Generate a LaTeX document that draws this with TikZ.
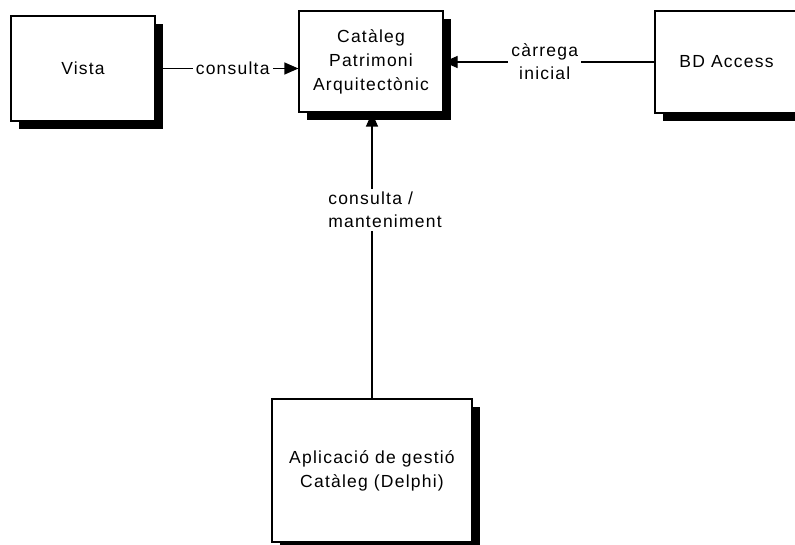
\documentclass[tikz,border=0pt]{standalone}
\usepackage{fontspec}
\setmainfont{Liberation Sans}[LetterSpace=7]
\usetikzlibrary{arrows.meta,shadows}
\pgfdeclarelayer{bg}
\pgfsetlayers{bg,main}

\begin{document}
\begin{tikzpicture}[
    x=1pt, y=-1pt,
    box/.style={
        rectangle, draw, line width=1.2pt, fill=white, align=center,
        font=\fontsize{17.5}{24}\selectfont, inner sep=0pt,
        drop shadow={shadow xshift=8pt, shadow yshift=-8pt, fill=black, opacity=1}
    },
    arrow/.style={-{Triangle[length=14pt, width=12pt]}, line width=1.2pt},
    lbl/.style={fill=white, font=\fontsize{17.5}{23}\selectfont, inner sep=3pt}
]
\useasboundingbox (0,0) rectangle (795,545);
\clip (0,0) rectangle (795,545);

\node[box, minimum width=144pt, minimum height=105pt] (vista) at (83,68.5) {Vista};
\node[box, minimum width=144pt, minimum height=101pt] (cat) at (371,61.5)
    {Catàleg\\Patrimoni\\Arquitectònic};
\node[box, minimum width=143pt, minimum height=102pt] (bd) at (726.5,62) {BD Access};
\node[box, minimum width=200pt, minimum height=143pt] (app) at (372,470.5)
    {Aplicació de gestió\\Catàleg (Delphi)};

% connectors under the shadows
\begin{pgfonlayer}{bg}
\draw[arrow] (vista) -- node[lbl, pos=.54] {consulta} (vista -| cat.west);
\draw[arrow] (bd) -- node[lbl, pos=.52, align=center] {càrrega\\inicial} (bd -| cat.east);
\draw[arrow] (app) -- node[lbl, pos=.66, xshift=13pt, align=left] {consulta /\\manteniment} (app |- cat.south);
\end{pgfonlayer}
\end{tikzpicture}
\end{document}
